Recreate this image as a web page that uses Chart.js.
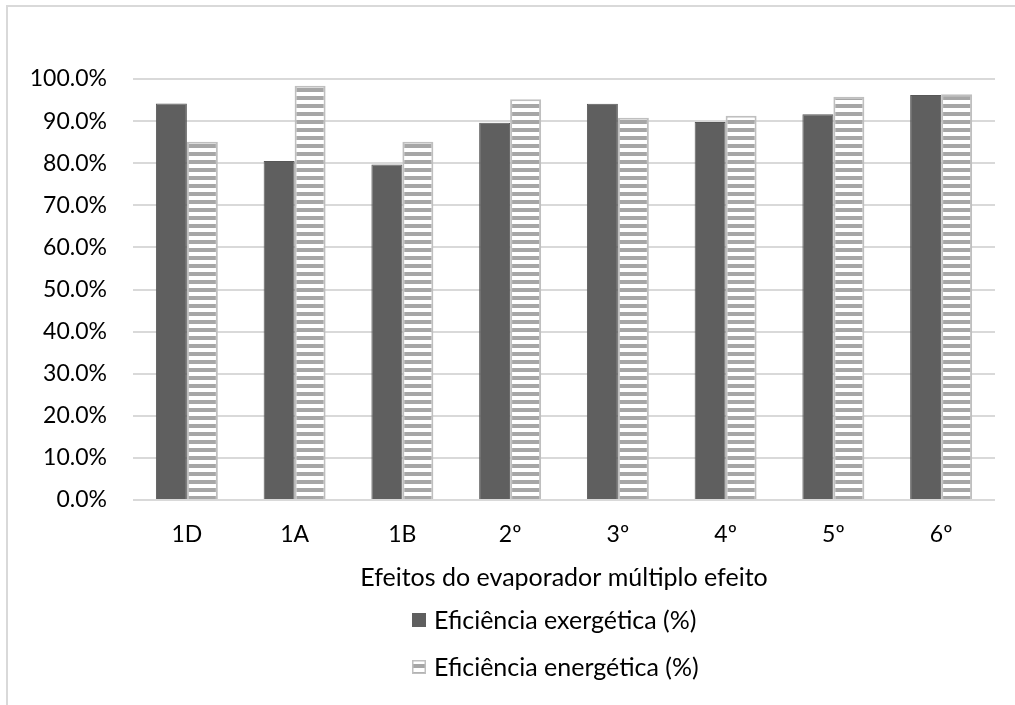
<!DOCTYPE html>
<html>
<head>
<meta charset="utf-8">
<script src="https://cdn.jsdelivr.net/npm/chart.js@4/dist/chart.umd.min.js"></script>
<style>
  html, body { margin: 0; padding: 0; background: #fff; }
  #wrap { width: 1015px; height: 705px; position: relative; }
</style>
</head>
<body>
<div id="wrap"><canvas id="c" width="1015" height="705"></canvas></div>
<script>
// Efeitos do evaporador e eficiências (%)
const categories = ['1D', '1A', '1B', '2º', '3º', '4º', '5º', '6º'];
const exergetica = [94.2, 80.5, 79.7, 89.6, 94.1, 89.8, 91.6, 96.2];
const energetica = [85.1, 98.4, 85.1, 95.2, 90.8, 91.3, 95.8, 96.4];
const yTicks = [0, 10, 20, 30, 40, 50, 60, 70, 80, 90, 100];
const seriesNames = ['Eficiência exergética (%)', 'Eficiência energética (%)'];
const axisTitle = 'Efeitos do evaporador múltiplo efeito';

const FONT = 'Lato, "Open Sans", sans-serif';
const FS_TICK = 23;
const FS_TEXT = 25;

// Horizontal-stripe fill for the second series
function stripePattern() {
  const t = document.createElement('canvas');
  t.width = 8; t.height = 8;
  const g = t.getContext('2d');
  g.fillStyle = '#ffffff';
  g.fillRect(0, 0, 8, 8);
  g.fillStyle = '#a6a6a6';
  g.fillRect(0, 0, 8, 4);
  return g.createPattern(t, 'repeat');
}
const stripes = stripePattern();

// Outer frame around the chart
const framePlugin = {
  id: 'frame',
  beforeDraw(chart) {
    const ctx = chart.ctx;
    ctx.save();
    ctx.strokeStyle = '#d9d9d9';
    ctx.lineWidth = 2;
    ctx.beginPath();
    ctx.moveTo(7, 720);
    ctx.lineTo(7, 6);
    ctx.lineTo(1030, 6);
    ctx.stroke();
    ctx.restore();
  }
};

// Two-row legend, items left-aligned in a centred block
const stackedLegend = {
  id: 'stackedLegend',
  afterDraw(chart) {
    const ctx = chart.ctx;
    const ds = chart.data.datasets;
    ctx.save();
    ctx.font = FS_TEXT + 'px ' + FONT;
    ctx.textBaseline = 'middle';
    ctx.textAlign = 'left';
    const box = 14, gap = 8;
    const widths = ds.map(d => ctx.measureText(d.label).width);
    const blockW = box + gap + Math.max(...widths);
    const x0 = Math.round((chart.chartArea.left + chart.chartArea.right) / 2 - 9 - blockW / 2);
    const rows = [620, 667];
    ds.forEach((d, i) => {
      const cy = rows[i];
      const by = Math.round(cy - box / 2);
      ctx.fillStyle = d.backgroundColor;
      ctx.fillRect(x0, by, box, box);
      if (i === 1) {
        ctx.strokeStyle = d.borderColor;
        ctx.lineWidth = 1.5;
        ctx.strokeRect(x0 + 0.75, by + 0.75, box - 1.5, box - 1.5);
      }
      ctx.fillStyle = '#000000';
      ctx.fillText(d.label, x0 + box + gap, cy + 1);
    });
    ctx.restore();
  }
};

new Chart(document.getElementById('c'), {
  type: 'bar',
  data: {
    labels: categories,
    datasets: [
      {
        label: seriesNames[0],
        data: exergetica,
        backgroundColor: '#5f5f5f',
        borderColor: '#575757',
        borderWidth: 1,
        categoryPercentage: 0.575,
        barPercentage: 1.0
      },
      {
        label: seriesNames[1],
        data: energetica,
        backgroundColor: stripes,
        borderColor: '#bfbfbf',
        borderWidth: 2,
        categoryPercentage: 0.575,
        barPercentage: 1.0
      }
    ]
  },
  options: {
    responsive: false,
    animation: false,
    layout: { padding: { left: 0, right: 20, top: 79, bottom: 112 } },
    plugins: {
      legend: { display: false },
      tooltip: { enabled: false }
    },
    scales: {
      x: {
        afterFit(scale) { scale.height = 93; },
        grid: { display: false, drawTicks: false },
        border: { display: false },
        ticks: { color: '#000', font: { family: FONT, size: FS_TICK }, padding: 21 },
        title: {
          display: true,
          text: axisTitle,
          color: '#000',
          font: { family: FONT, size: FS_TEXT },
          padding: { top: 14, bottom: 0 }
        }
      },
      y: {
        min: 0,
        max: 100,
        afterBuildTicks(scale) { scale.ticks = yTicks.map(v => ({ value: v })); },
        afterFit(scale) { scale.width = 133; },
        grid: { color: '#d9d9d9', lineWidth: 2, drawTicks: false },
        border: { display: false },
        ticks: {
          color: '#000',
          font: { family: FONT, size: FS_TICK },
          padding: 26,
          callback: v => v.toFixed(1) + '%'
        }
      }
    }
  },
  plugins: [framePlugin, stackedLegend]
});
</script>
</body>
</html>
